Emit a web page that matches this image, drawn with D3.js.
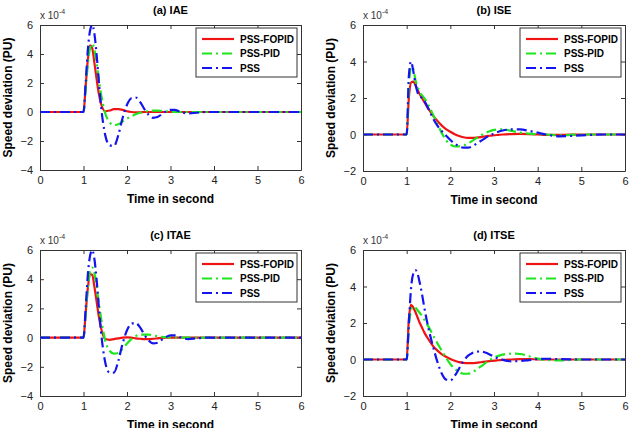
<!DOCTYPE html>
<html>
<head>
<meta charset="utf-8">
<script src="https://cdn.jsdelivr.net/npm/d3@7"></script>
<style>
  body { margin: 0; background: #fff; }
  svg { font-family: "Liberation Sans", Arial, sans-serif; }
</style>
</head>
<body>
<svg width="630" height="428"></svg>
<script>
// time samples (s), shared by all series
var time = [0, 1.0, 1.05, 1.1, 1.15, 1.2, 1.25, 1.3, 1.35, 1.4, 1.5, 1.6, 1.7, 1.8, 1.9, 2.0, 2.1, 2.2, 2.3, 2.4, 2.5, 2.6, 2.7, 2.8, 2.9, 3.0, 3.1, 3.2, 3.4, 3.6, 3.8, 4.0, 4.2, 4.5, 5.0, 5.5, 6.0];

// speed deviation, units of 1e-4 PU
// (a) IAE
var fopidA = [0, 0, 1.8, 3.6, 4.6, 4.4, 3.4, 2.3, 1.3, 0.6, 0.05, 0.1, 0.2, 0.2, 0.15, 0.05, 0, -0.02, -0.02, 0, 0, 0, 0, 0, 0, 0, 0, 0, 0, 0, 0, 0, 0, 0, 0, 0, 0];
var pidA = [0, 0, 1.6, 3.3, 4.4, 4.7, 4.3, 3.4, 2.3, 1.3, -0.1, -0.7, -0.9, -0.85, -0.65, -0.45, -0.3, -0.15, -0.05, 0.02, 0.08, 0.1, 0.1, 0.08, 0.05, 0.02, 0, 0, 0, 0, 0, 0, 0, 0, 0, 0, 0];
var pssA = [0, 0, 2.0, 4.3, 5.6, 6.0, 5.4, 4.0, 2.2, 0.5, -1.6, -2.3, -2.35, -1.6, -0.4, 0.5, 0.95, 1.0, 0.7, 0.2, -0.2, -0.4, -0.35, -0.15, 0.05, 0.15, 0.15, 0.05, -0.1, -0.05, 0, 0, 0, 0, 0, 0, 0];
// (b) ISE
var fopidB = [0, 0, 2.0, 2.85, 2.9, 2.7, 2.45, 2.2, 2.0, 1.8, 1.4, 1.05, 0.75, 0.5, 0.3, 0.15, 0.02, -0.08, -0.15, -0.18, -0.18, -0.17, -0.14, -0.1, -0.07, -0.04, -0.02, 0, 0.02, 0.03, 0.02, 0, -0.02, -0.02, 0, 0, 0];
var pidB = [0, 0, 2.6, 3.7, 3.6, 3.0, 2.6, 2.3, 2.15, 2.0, 1.6, 1.1, 0.6, 0.1, -0.3, -0.55, -0.65, -0.65, -0.6, -0.5, -0.35, -0.2, -0.05, 0.08, 0.18, 0.25, 0.28, 0.28, 0.2, 0.1, 0.05, 0.02, 0, -0.05, 0, 0, 0];
var pssB = [0, 0, 3.2, 4.0, 3.5, 2.8, 2.3, 2.1, 2.0, 1.85, 1.4, 0.9, 0.5, 0.2, -0.05, -0.3, -0.5, -0.65, -0.72, -0.72, -0.65, -0.5, -0.35, -0.2, -0.05, 0.05, 0.15, 0.22, 0.28, 0.28, 0.2, 0.1, 0, -0.1, -0.05, 0, 0];
// (c) ITAE
var fopidC = [0, 0, 1.7, 3.4, 4.35, 4.3, 3.5, 2.5, 1.5, 0.7, -0.1, -0.15, -0.1, -0.05, 0, 0.02, 0, -0.05, -0.08, -0.1, -0.1, -0.08, -0.05, -0.02, 0, 0, 0, 0, 0, 0, 0, 0, 0, 0, 0, 0, 0];
var pidC = [0, 0, 1.6, 3.4, 4.5, 4.8, 4.4, 3.5, 2.4, 1.4, -0.2, -0.9, -1.1, -1.05, -0.75, -0.4, -0.1, 0.1, 0.2, 0.2, 0.2, 0.15, 0.1, 0.05, 0.03, 0.02, 0, 0, 0, 0, 0, 0, 0, 0, 0, 0, 0];
var pssC = [0, 0, 2.0, 4.3, 5.6, 6.0, 5.4, 4.0, 2.2, 0.5, -1.7, -2.4, -2.4, -1.6, -0.4, 0.5, 0.95, 1.0, 0.7, 0.2, -0.2, -0.4, -0.35, -0.15, 0.05, 0.15, 0.15, 0.05, -0.1, -0.05, 0, 0, 0, 0, 0, 0, 0];
// (d) ITSE
var fopidD = [0, 0, 2.2, 3.0, 2.85, 2.6, 2.3, 2.0, 1.75, 1.5, 1.1, 0.75, 0.5, 0.3, 0.15, 0.03, -0.07, -0.14, -0.18, -0.2, -0.2, -0.18, -0.15, -0.12, -0.09, -0.06, -0.04, -0.02, 0, 0.02, 0.02, 0.01, 0, 0, 0, 0, 0];
var pidD = [0, 0, 1.8, 2.7, 2.9, 2.85, 2.7, 2.55, 2.4, 2.2, 1.8, 1.35, 0.9, 0.5, 0.1, -0.25, -0.5, -0.68, -0.78, -0.78, -0.7, -0.55, -0.38, -0.2, -0.03, 0.1, 0.2, 0.27, 0.32, 0.3, 0.18, 0.05, -0.03, -0.05, 0, 0, 0];
var pssD = [0, 0, 2.0, 3.9, 4.7, 4.9, 4.7, 4.2, 3.6, 2.9, 1.7, 0.75, -0.1, -0.75, -1.1, -1.15, -0.9, -0.5, -0.1, 0.2, 0.35, 0.43, 0.44, 0.38, 0.28, 0.15, 0.05, -0.02, -0.1, -0.08, -0.03, 0.02, 0.04, 0.02, 0, 0, 0];

var xTicks = [0, 1, 2, 3, 4, 5, 6];
var seriesNames = ["PSS-FOPID", "PSS-PID", "PSS"];
var seriesColors = ["#ee1414", "#1ee61e", "#1414ee"];
var seriesDash = [null, "10,4,2,4", "10,4,2,4"];

var panels = [
    { title: "(a) IAE", left: 40, top: 25, right: 301, bottom: 170, yMin: -4, series: [fopidA, pidA, pssA] },
    { title: "(b) ISE", left: 363, top: 25, right: 625, bottom: 171, yMin: -2, series: [fopidB, pidB, pssB] },
    { title: "(c) ITAE", left: 40, top: 250, right: 301, bottom: 396, yMin: -4, series: [fopidC, pidC, pssC] },
    { title: "(d) ITSE", left: 363, top: 250, right: 625, bottom: 396, yMin: -2, series: [fopidD, pidD, pssD] }
];

var svg = d3.select("svg");

panels.forEach(function (p, k) {
    var width = p.right - p.left, height = p.bottom - p.top;
    var x = d3.scaleLinear().domain([0, 6]).range([0, width]);
    var y = d3.scaleLinear().domain([p.yMin, 6]).range([height, 0]);
    var yTicks = d3.range(p.yMin, 7, 2);

    var g = svg.append("g")
        .attr("transform", "translate(" + p.left + "," + p.top + ")");

    g.append("clipPath").attr("id", "clip" + k)
        .append("rect").attr("width", width).attr("height", height);

    //axes, matlab style: ticks inside on all four sides
    var ax = function (axis) {
        return axis.tickSizeInner(-4).tickSizeOuter(0).tickPadding(6);
    };
    var bottom = g.append("g").attr("transform", "translate(0," + height + ")")
        .call(ax(d3.axisBottom(x).tickValues(xTicks).tickFormat(d3.format("d"))));
    var top = g.append("g")
        .call(ax(d3.axisTop(x).tickValues(xTicks).tickFormat("")));
    var left = g.append("g")
        .call(ax(d3.axisLeft(y).tickValues(yTicks).tickFormat(d3.format("d"))));
    var right = g.append("g").attr("transform", "translate(" + width + ",0)")
        .call(ax(d3.axisRight(y).tickValues(yTicks).tickFormat("")));
    [bottom, top, left, right].forEach(function (a) {
        a.selectAll("path,line").attr("stroke", "#333");
        a.selectAll("text").attr("font-size", "11px").attr("fill", "#222")
            .attr("font-family", "Liberation Sans, Arial, sans-serif");
    });
    left.selectAll("text").attr("dx", "-1");

    //lines
    var line = d3.line()
        .x(function (d, i) { return x(time[i]); })
        .y(function (d) { return y(d); })
        .curve(d3.curveMonotoneX);

    var lines = g.append("g").attr("clip-path", "url(#clip" + k + ")");
    p.series.forEach(function (s, j) {
        lines.append("path")
            .datum(s)
            .attr("d", line)
            .attr("fill", "none")
            .attr("stroke", seriesColors[j])
            .attr("stroke-width", 2.2)
            .attr("stroke-dasharray", seriesDash[j]);
    });

    //exponent label
    var ex = g.append("text").attr("x", 0).attr("y", -6)
        .attr("font-size", "10px").attr("fill", "#333");
    ex.append("tspan").text("x 10");
    ex.append("tspan").attr("dy", -5).attr("font-size", "7px").text("-4");

    //title
    g.append("text")
        .attr("x", width / 2).attr("y", -11)
        .attr("text-anchor", "middle")
        .attr("font-size", "11px").attr("font-weight", "bold")
        .text(p.title);

    //axis labels
    g.append("text")
        .attr("x", width / 2).attr("y", height + 33)
        .attr("text-anchor", "middle")
        .attr("font-size", "12px").attr("font-weight", "bold")
        .text("Time in second");
    g.append("text")
        .attr("transform", "rotate(-90)")
        .attr("x", -height / 2).attr("y", -28)
        .attr("text-anchor", "middle")
        .attr("font-size", "12px").attr("font-weight", "bold")
        .text("Speed deviation (PU)");

    //legend
    var lg = g.append("g").attr("transform", "translate(" + (width - 105) + ",3)");
    lg.append("rect").attr("width", 101).attr("height", 49)
        .attr("fill", "#fff").attr("stroke", "#333").attr("stroke-width", 1);
    seriesNames.forEach(function (n, j) {
        var ly = 11 + j * 14.5;
        lg.append("line")
            .attr("x1", 6).attr("x2", 38).attr("y1", ly).attr("y2", ly)
            .attr("stroke", seriesColors[j]).attr("stroke-width", 2.2)
            .attr("stroke-dasharray", seriesDash[j]);
        lg.append("text")
            .attr("x", 44).attr("y", ly + 3.5)
            .attr("font-size", "10px").attr("font-weight", "bold")
            .text(n);
    });
});
</script>
</body>
</html>
